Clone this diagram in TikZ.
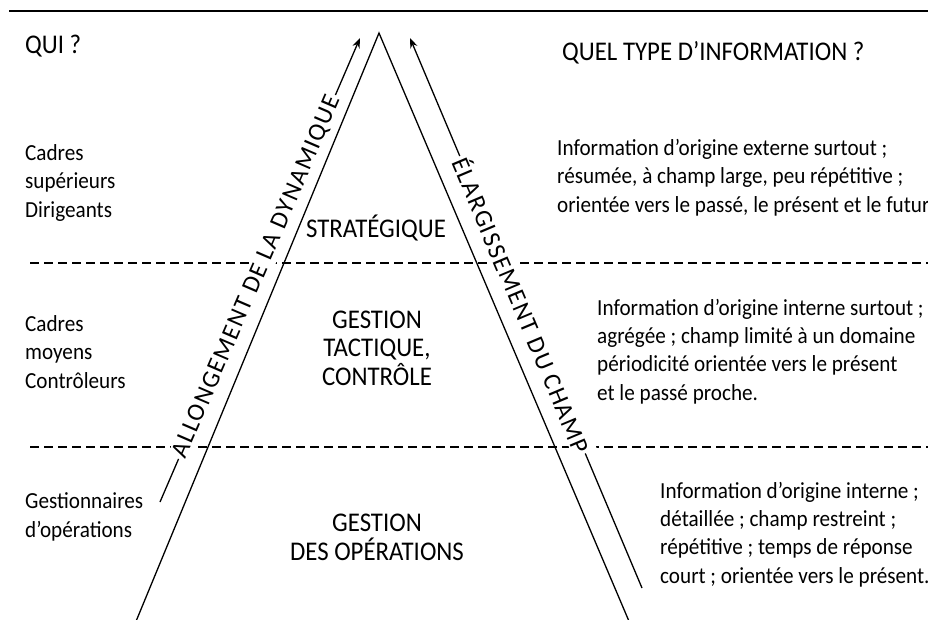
\documentclass[tikz,border=0pt]{standalone}
\usepackage{fontspec}
\setmainfont{Carlito}[FakeStretch=0.92]
\newfontfamily\trackfont{Carlito}[LetterSpace=6]
\usetikzlibrary{arrows.meta}
\def\bodysize{\fontsize{23}{28.3}\selectfont}
\def\headsize{\fontsize{27}{28.5}\selectfont}

\begin{document}
\begin{tikzpicture}[x=1pt,y=-1pt,
    level/.style={dash pattern=on 9pt off 5pt, line width=1.1pt},
    side/.style={line width=1.3pt},
    trend/.style={line width=1.3pt, -{Stealth[length=10pt,width=7.5pt]}},
    trendlabel/.style={sloped, fill=white, inner sep=2pt, font=\trackfont\fontsize{25}{25}\selectfont},
    who/.style={anchor=base west, align=left, inner sep=0pt, font=\bodysize},
    tier/.style={anchor=base, align=center, inner sep=0pt, font=\headsize}]
    \useasboundingbox (0,0) rectangle (928,619);
    \draw[line width=2.5pt] (9,11) -- (928,11);
    \draw[level] (30,263) -- (928,263);
    \draw[level] (30,447) -- (928,447);
    \coordinate (apex) at (379,33);
    \coordinate (baseL) at (134.5,625);
    \coordinate (baseR) at (630.6,625);
    \draw[side] (baseL) -- (apex) -- (baseR);
    \coordinate (dynB) at (160,502);
    \coordinate (dynT) at (360,38);
    \coordinate (chpB) at (642,588);
    \coordinate (chpT) at (410,38);
    \draw[trend] (dynB) -- node[trendlabel, pos=0.485] (dyn) {ALLONGEMENT DE LA DYNAMIQUE} (dynT);
    \draw[trend] (chpB) -- node[trendlabel, pos=0.515] (chp) {ÉLARGISSEMENT DU CHAMP} (chpT);
    \node[tier] (strat) at (376,237) {STRATÉGIQUE};
    \node[tier] (tact) at (377,385) {GESTION\\TACTIQUE,\\CONTRÔLE};
    \node[tier] (oper) at (377,560) {GESTION\\DES OPÉRATIONS};
    \node[who, font=\headsize] (qui) at (25,53) {QUI ?};
    \node[who] (dir) at (25,217) {Cadres\\supérieurs\\Dirigeants};
    \node[who] (ctrl) at (25,388) {Cadres\\moyens\\Contrôleurs};
    \node[who] (gest) at (25,537) {Gestionnaires\\d'opérations};
    \node[who, font=\headsize] (quel) at (562,60) {QUEL TYPE D'INFORMATION ?};
    \node[who] (ext) at (557,212) {Information d'origine externe surtout ;\\résumée, à champ large, peu répétitive ;\\orientée vers le passé, le présent et le futur};
    \node[who] (int) at (597,400) {Information d'origine interne surtout ;\\agrégée ; champ limité à un domaine\\périodicité orientée vers le présent\\et le passé proche.};
    \node[who] (opr) at (660,583) {Information d'origine interne ;\\détaillée ; champ restreint ;\\répétitive ; temps de réponse\\court ; orientée vers le présent.};
\end{tikzpicture}
\end{document}
